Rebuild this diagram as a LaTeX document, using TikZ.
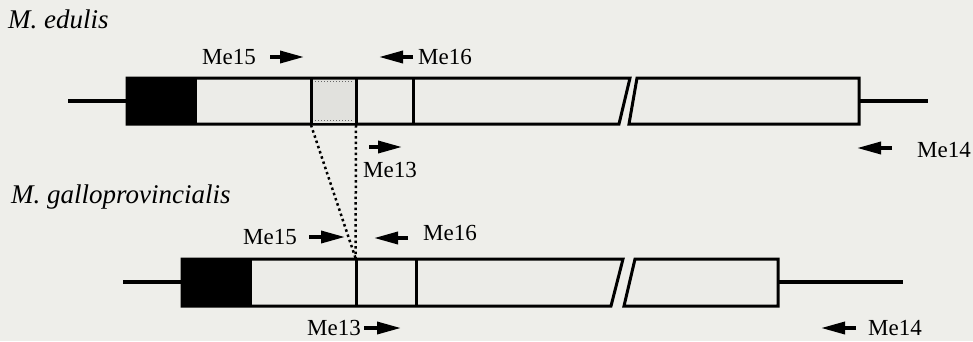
\documentclass[tikz,border=0pt]{standalone}
\usepackage{fontspec}
\setmainfont{Liberation Serif}
\usetikzlibrary{arrows.meta}
\definecolor{bg}{RGB}{238,238,234}
\definecolor{boxfill}{RGB}{236,236,232}
\definecolor{shade}{RGB}{225,225,221}
\tikzset{
  seg/.style={draw=black, line width=3pt, fill=boxfill, line join=miter},
  divider/.style={line width=3pt},
  flank/.style={line width=4.5pt},
  primer/.style={line width=3.5pt, -{Triangle[length=24pt,width=12pt]}},
  lbl/.style={font=\fontsize{23}{23}\selectfont, inner sep=0pt, anchor=base west},
  species/.style={font=\fontsize{27}{27}\selectfont\itshape, inner sep=0pt, anchor=base west},
  guide/.style={line width=2.5pt, dash pattern=on 2.5pt off 3pt},
}
\begin{document}
\begin{tikzpicture}[x=1pt,y=-1pt]
\useasboundingbox (0,0) rectangle (973,341);
\fill[bg] (0,0) rectangle (973,341);

% species labels
\node[species] (sp1) at (8,28) {M. edulis};
\node[species] (sp2) at (11,203) {M. galloprovincialis};

% ---------- M. edulis gene ----------
\coordinate (e5) at (68,101);
\coordinate (eL) at (127,101);
\coordinate (eR) at (859,101);
\coordinate (e3) at (928,101);
\draw[flank] (e5) -- (eL);
\draw[flank] (eR) -- (e3);
\draw[seg] (127,78) -- (630,78) -- (619,124) -- (127,124) -- cycle;
\path[fill=shade] (312.5,79.5) -- (354.5,79.5) -- (354.5,122.5) -- (312.5,122.5) -- cycle;
\draw[black!60, line width=0.8pt, dash pattern=on 1pt off 2pt] (315,81.5) -- (353,81.5);
\draw[black!60, line width=0.8pt, dash pattern=on 1pt off 2pt] (315,120.5) -- (353,120.5);
\fill[black] (127,78) rectangle (197,124);
\draw[divider] (311,78) -- (311,124);
\draw[divider] (356,78) -- (356,124);
\draw[divider] (413,78) -- (413,124);
\draw[seg] (637,78) -- (859,78) -- (859,124) -- (629,124) -- cycle;

% ---------- M. galloprovincialis gene ----------
\coordinate (g5) at (123,282);
\coordinate (gL) at (182,282);
\coordinate (gR) at (778,282);
\coordinate (g3) at (903,282);
\draw[flank] (g5) -- (gL);
\draw[flank] (gR) -- (g3);
\draw[seg] (182,259) -- (623,259) -- (611,306) -- (182,306) -- cycle;
\fill[black] (182,259) rectangle (252,306);
\draw[divider] (356,259) -- (356,306);
\draw[divider] (416,259) -- (416,306);
\draw[seg] (635,259) -- (778,259) -- (778,306) -- (624,306) -- cycle;

% dotted guides
\coordinate (d1) at (311,125);
\coordinate (d2) at (356,125);
\coordinate (dj) at (355.5,258);
\draw[guide] (d1) -- (dj);
\draw[guide] (d2) -- (dj);

% ---------- primers, M. edulis ----------
\coordinate (a15s) at (270,57);  \coordinate (a15e) at (304,57);
\coordinate (a16s) at (413,57);  \coordinate (a16e) at (379,57);
\coordinate (a13s) at (369,147); \coordinate (a13e) at (402,147);
\coordinate (a14s) at (892,148); \coordinate (a14e) at (857,148);
\draw[primer] (a15s) -- (a15e);
\draw[primer] (a16s) -- (a16e);
\draw[primer] (a13s) -- (a13e);
\draw[primer] (a14s) -- (a14e);
\node[lbl] (t15) at (202,64) {Me15};
\node[lbl] (t16) at (418,64) {Me16};
\node[lbl] (t13) at (363,177) {Me13};
\node[lbl] (t14) at (917,157) {Me14};

% ---------- primers, M. galloprovincialis ----------
\coordinate (b15s) at (309,237); \coordinate (b15e) at (345,237);
\coordinate (b16s) at (408,238); \coordinate (b16e) at (374,238);
\coordinate (b13s) at (364,328); \coordinate (b13e) at (401,328);
\coordinate (b14s) at (856,328); \coordinate (b14e) at (821,328);
\draw[primer] (b15s) -- (b15e);
\draw[primer] (b16s) -- (b16e);
\draw[primer] (b13s) -- (b13e);
\draw[primer] (b14s) -- (b14e);
\node[lbl] (u15) at (243,244) {Me15};
\node[lbl] (u16) at (423,240) {Me16};
\node[lbl] (u13) at (307,335) {Me13};
\node[lbl] (u14) at (868,335) {Me14};
\end{tikzpicture}
\end{document}
